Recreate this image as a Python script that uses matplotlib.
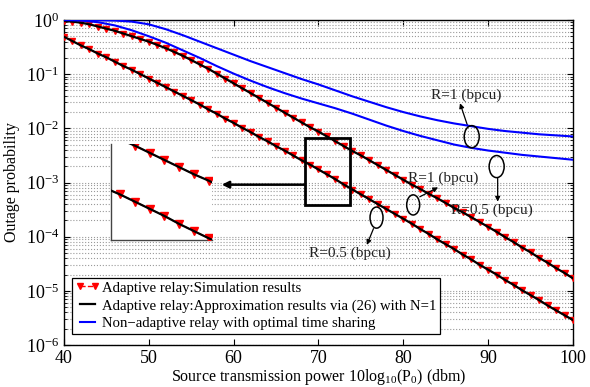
import numpy as np
import matplotlib
matplotlib.use('Agg')
import matplotlib.pyplot as plt
from matplotlib.patches import Ellipse, Rectangle

plt.rcParams['font.family'] = ['Liberation Serif', 'DejaVu Serif']
plt.rcParams['mathtext.fontset'] = 'custom'
plt.rcParams['mathtext.rm'] = 'Liberation Serif'
plt.rcParams['mathtext.it'] = 'Liberation Serif:italic'

# ---- data ----
snr = np.arange(40, 101)          # markers every 1 dB
# -log10(outage), adaptive relay
dec_r1 = [0.02, 0.03, 0.05, 0.08, 0.12, 0.16, 0.20, 0.25, 0.30, 0.35,
          0.40, 0.46, 0.52, 0.59, 0.66, 0.74, 0.82, 0.90, 0.99, 1.08,
          1.17, 1.26, 1.35, 1.44, 1.53, 1.62, 1.71, 1.80, 1.89, 1.98,
          2.06, 2.15, 2.24, 2.33, 2.42, 2.50, 2.59, 2.68, 2.77, 2.86,
          2.95, 3.04, 3.12, 3.21, 3.29, 3.38, 3.47, 3.55, 3.64, 3.73,
          3.82, 3.91, 4.01, 4.10, 4.20, 4.29, 4.39, 4.48, 4.58, 4.67, 4.77]
dec_r05 = [0.31, 0.39, 0.47, 0.54, 0.62, 0.69, 0.77, 0.85, 0.92, 1.00,
           1.08, 1.16, 1.24, 1.32, 1.40, 1.48, 1.56, 1.65, 1.73, 1.82,
           1.90, 1.99, 2.07, 2.16, 2.24, 2.33, 2.41, 2.50, 2.59, 2.67,
           2.76, 2.85, 2.94, 3.04, 3.13, 3.22, 3.31, 3.40, 3.49, 3.58,
           3.67, 3.76, 3.86, 3.95, 4.05, 4.14, 4.23, 4.33, 4.42, 4.52,
           4.61, 4.70, 4.80, 4.89, 4.99, 5.08, 5.17, 5.27, 5.36, 5.45, 5.54]
# non-adaptive relay, every 2 dB
snr_na = np.arange(40, 101, 2)
dec_na_r1 = [0.00, 0.00, 0.005, 0.01, 0.03, 0.08, 0.17, 0.28, 0.40, 0.52,
             0.64, 0.76, 0.87, 0.98, 1.09, 1.19, 1.30, 1.41, 1.51, 1.61,
             1.70, 1.78, 1.85, 1.91, 1.96, 2.01, 2.05, 2.08, 2.11, 2.13, 2.15]
dec_na_r05 = [0.00, 0.01, 0.04, 0.10, 0.19, 0.30, 0.42, 0.56, 0.70, 0.85,
              0.99, 1.12, 1.24, 1.35, 1.45, 1.54, 1.63, 1.73, 1.84, 1.95,
              2.05, 2.14, 2.22, 2.30, 2.36, 2.41, 2.45, 2.49, 2.52, 2.55, 2.58]

p_r1 = 10.0 ** -np.array(dec_r1)
p_r05 = 10.0 ** -np.array(dec_r05)
p_na_r1 = 10.0 ** -np.array(dec_na_r1)
p_na_r05 = 10.0 ** -np.array(dec_na_r05)

RED = '#ff0000'
BLUE = '#0000ff'

fig = plt.figure(figsize=(5.9, 3.87), dpi=100)
ax = fig.add_axes([64/590, 1-345/387, 509/590, 325/387])

def draw_curves(a, ms):
    for p in (p_r1, p_r05):
        a.plot(snr, p, '--', color=RED, lw=1.0, marker='v', ms=ms,
               mfc=RED, mec=RED, zorder=3)
    for p in (p_r1, p_r05):
        a.plot(snr, p, '-', color='black', lw=1.6, zorder=4)

draw_curves(ax, 4.3)
for p in (p_na_r1, p_na_r05):
    ax.plot(snr_na, p, '-', color=BLUE, lw=1.5, zorder=4)

ax.set_yscale('log')
ax.set_xlim(40, 100)
ax.set_ylim(1e-6, 1)
ax.set_xticks(np.arange(40, 101, 10))
ax.set_yticks(10.0 ** np.arange(-6, 1))
ax.tick_params(which='both', direction='in', top=True, right=True, labelsize=13)
ax.tick_params(which='major', length=4)
ax.tick_params(which='minor', length=2)
ax.grid(True, which='both', axis='y', color='#9a9a9a', ls=':', lw=0.8)
for s in ax.spines.values():
    s.set_linewidth(1.0)

ax.set_xlabel(r'Source transmission power 10log$_{10}$(P$_0$) (dbm)',
              fontsize=11.5, labelpad=0)
ax.set_ylabel('Outage probability', fontsize=11.5, labelpad=4)

# zoom box and arrow to inset
ax.add_patch(Rectangle((68.4, 10**-3.41), 5.3, 10**-2.18 - 10**-3.41,
                       fill=False, ec='black', lw=2.0, zorder=5))
ax.annotate('', xy=(58.6, 10**-3.04), xytext=(68.4, 10**-3.04),
            arrowprops=dict(arrowstyle='-|>', color='black', lw=1.8,
                            mutation_scale=10, shrinkA=0, shrinkB=0), zorder=6)

# ellipses, arrows and labels
ell = [(0.801, 0.641, 0.0295, 0.068), (0.850, 0.549, 0.0295, 0.068),
       (0.686, 0.431, 0.0255, 0.062), (0.614, 0.392, 0.0255, 0.065)]
for cx, cy, w, h in ell:
    ax.add_patch(Ellipse((cx, cy), w, h, transform=ax.transAxes, fill=False,
                         ec='black', lw=1.1, zorder=6))
notes = [('R=1 (bpcu)', (0.793, 0.674), (0.778, 0.744), (0.791, 0.769)),
         ('R=0.5 (bpcu)', (0.852, 0.513), (0.852, 0.441), (0.840, 0.415)),
         ('R=1 (bpcu)', (0.699, 0.456), (0.735, 0.485), (0.745, 0.513)),
         ('R=0.5 (bpcu)', (0.608, 0.358), (0.595, 0.308), (0.562, 0.283))]
for txt, start, end, pos in notes:
    ax.annotate('', xy=end, xytext=start, xycoords='axes fraction',
                arrowprops=dict(arrowstyle='-|>', color='black', lw=0.9,
                                mutation_scale=7, shrinkA=0, shrinkB=0))
    ax.text(pos[0], pos[1], txt, transform=ax.transAxes, ha='center',
            va='center', fontsize=11, color='#222222')

# legend
h_sim, = ax.plot([], [], '--', color=RED, lw=1.0, marker='v', ms=5)
h_app, = ax.plot([], [], '-', color='black', lw=1.6)
h_na, = ax.plot([], [], '-', color=BLUE, lw=1.5)
leg = ax.legend([h_sim, h_app, h_na],
                ['Adaptive relay:Simulation results',
                 'Adaptive relay:Approximation results via (26) with N=1',
                 'Non\u2212adaptive relay with optimal time sharing'],
                loc='lower left', bbox_to_anchor=(0.0157, 0.034),
                borderaxespad=0, fontsize=10.6, numpoints=2, handlelength=1.6,
                handletextpad=0.2, labelspacing=0.3, borderpad=0.25,
                fancybox=False, framealpha=1, edgecolor='black')
leg.get_frame().set_linewidth(0.9)
leg.set_zorder(7)

# inset
axi = fig.add_axes([111/590, 1-240/387, 101/590, 96/387])
draw_curves(axi, 5.5)
axi.set_yscale('log')
axi.set_xlim(68.4, 75.2)
axi.set_ylim(10**-3.24, 10**-2.04)
axi.set_xticks([])
axi.set_yticks([])
axi.minorticks_off()
axi.spines['top'].set_visible(False)
axi.spines['right'].set_visible(False)
for s in ('left', 'bottom'):
    axi.spines[s].set_color('#444444')
    axi.spines[s].set_linewidth(1.0)

fig.savefig('out.png', dpi=100)
